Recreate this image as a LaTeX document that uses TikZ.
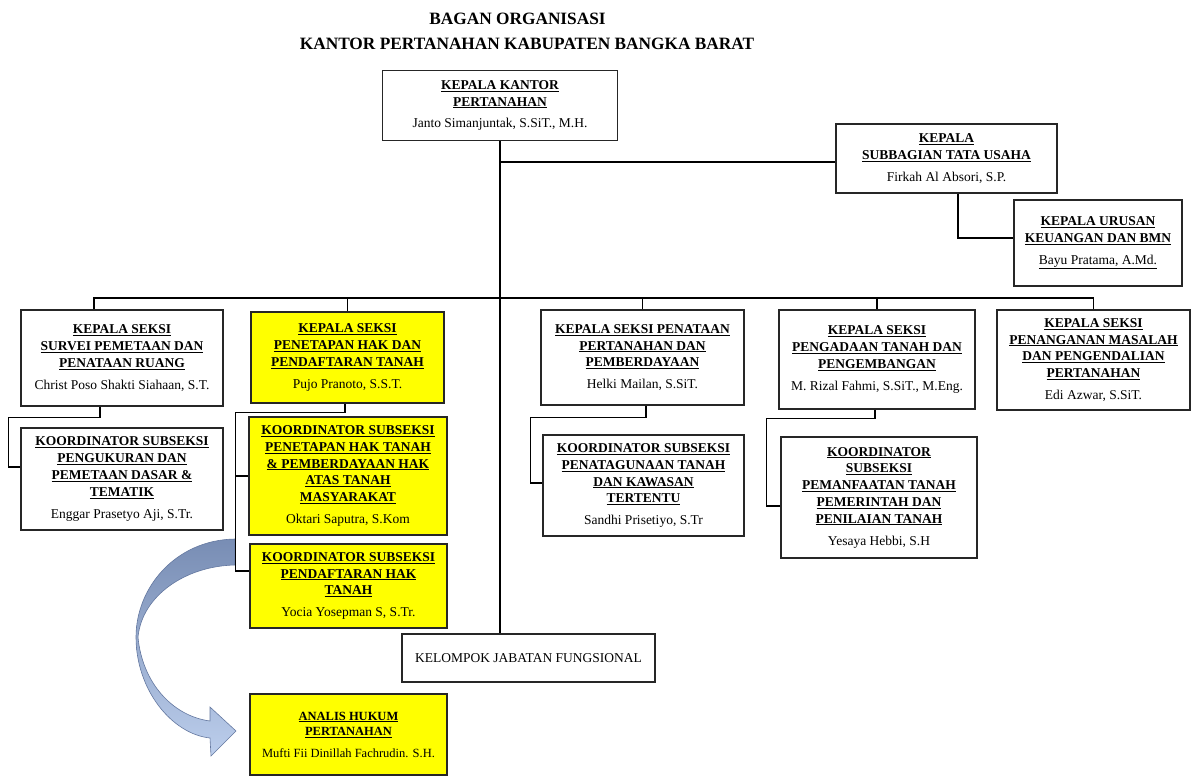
\documentclass[tikz,border=0pt]{standalone}
\usepackage{fontspec}
\setmainfont{Liberation Serif}
\usetikzlibrary{calc}
\definecolor{arrtop}{RGB}{120,141,180}
\definecolor{arrbot}{RGB}{188,206,236}
\definecolor{arredge}{RGB}{100,120,160}
\definecolor{boxyellow}{RGB}{255,255,0}
\newcommand{\hdl}[1]{\textbf{\underline{#1}}}
\tikzset{
  box/.style={draw=black!85, line width=1.2pt, align=center, inner sep=2pt,
    font=\fontsize{13.5}{16.8}\selectfont},
  ybox/.style={box, fill=boxyellow},
  conn/.style={draw=black, line width=1.3pt},
  ttl/.style={font=\bfseries\fontsize{17.3}{20}\selectfont, inner sep=0pt}
}
\begin{document}
\begin{tikzpicture}[x=1pt,y=-1pt]
\useasboundingbox[fill=white] (0,0) rectangle (1194,776);
\coordinate (bus) at (0,298);
\coordinate (tuj) at (0,162);

% titles
\node[ttl] (t1) at (517.5,18.5) {BAGAN ORGANISASI};
\node[ttl] (t2) at (527,43.5) {KANTOR PERTANAHAN KABUPATEN BANGKA BARAT};

% boxes
\node[box, minimum width=235, minimum height=70] (kk) at (500,105.5)
  {\hdl{KEPALA KANTOR}\\\hdl{PERTANAHAN}\\[5pt]Janto Simanjuntak, S.SiT., M.H.};
\node[box, minimum width=221, minimum height=69] (tu) at (946.5,158.5)
  {\hdl{KEPALA}\\\hdl{SUBBAGIAN TATA USAHA}\\[5pt]Firkah Al Absori, S.P.};
\node[box, minimum width=168, minimum height=86] (ur) at (1098,243)
  {\hdl{KEPALA URUSAN}\\\hdl{KEUANGAN DAN BMN}\\[5pt]\underline{Bayu Pratama, A.Md.}};
\node[box, minimum width=202, minimum height=96] (sv) at (122,358)
  {\hdl{KEPALA SEKSI}\\\hdl{SURVEI PEMETAAN DAN}\\\hdl{PENATAAN RUANG}\\[5pt]Christ Poso Shakti Siahaan, S.T.};
\node[ybox, minimum width=193, minimum height=91] (pt) at (347.5,357.5)
  {\hdl{KEPALA SEKSI}\\\hdl{PENETAPAN HAK DAN}\\\hdl{PENDAFTARAN TANAH}\\[5pt]Pujo Pranoto, S.S.T.};
\node[box, minimum width=203, minimum height=95] (pn) at (642.5,357.5)
  {\hdl{KEPALA SEKSI PENATAAN}\\\hdl{PERTANAHAN DAN}\\\hdl{PEMBERDAYAAN}\\[5pt]Helki Mailan, S.SiT.};
\node[box, minimum width=196, minimum height=99] (pa) at (877,359.5)
  {\hdl{KEPALA SEKSI}\\\hdl{PENGADAAN TANAH DAN}\\\hdl{PENGEMBANGAN}\\[5pt]M. Rizal Fahmi, S.SiT., M.Eng.};
\node[box, minimum width=193, minimum height=100] (pm) at (1093.5,360)
  {\hdl{KEPALA SEKSI}\\\hdl{PENANGANAN MASALAH}\\\hdl{DAN PENGENDALIAN}\\\hdl{PERTANAHAN}\\[5pt]Edi Azwar, S.SiT.};
\node[box, minimum width=202, minimum height=102] (pk) at (122,479)
  {\hdl{KOORDINATOR SUBSEKSI}\\\hdl{PENGUKURAN DAN}\\\hdl{PEMETAAN DASAR \&}\\\hdl{TEMATIK}\\[5pt]Enggar Prasetyo Aji, S.Tr.};
\node[ybox, minimum width=198, minimum height=118] (ph) at (348,476)
  {\hdl{KOORDINATOR SUBSEKSI}\\\hdl{PENETAPAN HAK TANAH}\\\hdl{\& PEMBERDAYAAN HAK}\\\hdl{ATAS TANAH}\\\hdl{MASYARAKAT}\\[5pt]Oktari Saputra, S.Kom};
\node[ybox, minimum width=197, minimum height=84] (pd) at (348.5,586)
  {\hdl{KOORDINATOR SUBSEKSI}\\\hdl{PENDAFTARAN HAK}\\\hdl{TANAH}\\[5pt]Yocia Yosepman S, S.Tr.};
\node[box, minimum width=201, minimum height=101] (pg) at (643.5,485.5)
  {\hdl{KOORDINATOR SUBSEKSI}\\\hdl{PENATAGUNAAN TANAH}\\\hdl{DAN KAWASAN}\\\hdl{TERTENTU}\\[5pt]Sandhi Prisetiyo, S.Tr};
\node[box, minimum width=196, minimum height=121] (pf) at (879,497.5)
  {\hdl{KOORDINATOR}\\\hdl{SUBSEKSI}\\\hdl{PEMANFAATAN TANAH}\\\hdl{PEMERINTAH DAN}\\\hdl{PENILAIAN TANAH}\\[5pt]Yesaya Hebbi, S.H};
\node[box, minimum width=253, minimum height=48] (kjf) at (528.5,658)
  {KELOMPOK JABATAN FUNGSIONAL};
\node[ybox, minimum width=197, minimum height=81, font=\fontsize{12.5}{15.5}\selectfont] (ah) at (348.5,734.5)
  {\hdl{ANALIS HUKUM}\\\hdl{PERTANAHAN}\\[6pt]Mufti Fii Dinillah Fachrudin. S.H.};

% curved arrow
\shade[top color=arrtop, bottom color=arrbot, draw=arredge, line width=0.6pt]
  (235,539) .. controls (175,540) and (136,588) .. (136,637)
  .. controls (136,690) and (172,734) .. (210,738)
  -- (211,756) -- (236,731) -- (210,707) -- (210,721)
  .. controls (172,716) and (142,682) .. (138,637)
  .. controls (142,596) and (185,566) .. (235,565) -- cycle;

% connectors
\draw[conn] (kk.south) -- (kk.south |- kjf.north);
\draw[conn] (kk.south |- tuj) -- (tu.west |- tuj);
\coordinate (tub) at ($(tu.south)+(11.5,0)$);
\draw[conn] (tub) |- ($(ur.west)+(0,-5)$);
\coordinate (svt) at ($(sv.north)+(-28,0)$);
\draw[conn] (svt) |- (pm.north |- bus) -- (pm.north);
\draw[conn] (pt.north) -- (pt.north |- bus);
\draw[conn] (pn.north) -- (pn.north |- bus);
\draw[conn] (pa.north) -- (pa.north |- bus);
\coordinate (svb) at ($(sv.south)+(-22,0)$);
\draw[conn] (svb) -- ++(0,11) -| ($(pk.west)+(-12,-12)$) -- ($(pk.west)+(0,-12)$);
\coordinate (ptb) at ($(pt.south)+(-2.5,0)$);
\draw[conn] (ptb) -- ++(0,9) -| ($(pd.west)+(-14,-15)$) -- ($(pd.west)+(0,-15)$);
\draw[conn] ($(ph.west)+(-13,0)$) -- (ph.west);
\coordinate (pnb) at ($(pn.south)+(3.5,0)$);
\draw[conn] (pnb) -- ++(0,12) -| ($(pg.west)+(-12,-2.5)$) -- ($(pg.west)+(0,-2.5)$);
\coordinate (pab) at ($(pa.south)+(-2,0)$);
\draw[conn] (pab) -- ++(0,9) -| ($(pf.west)+(-14,8.5)$) -- ($(pf.west)+(0,8.5)$);
\end{tikzpicture}
\end{document}
